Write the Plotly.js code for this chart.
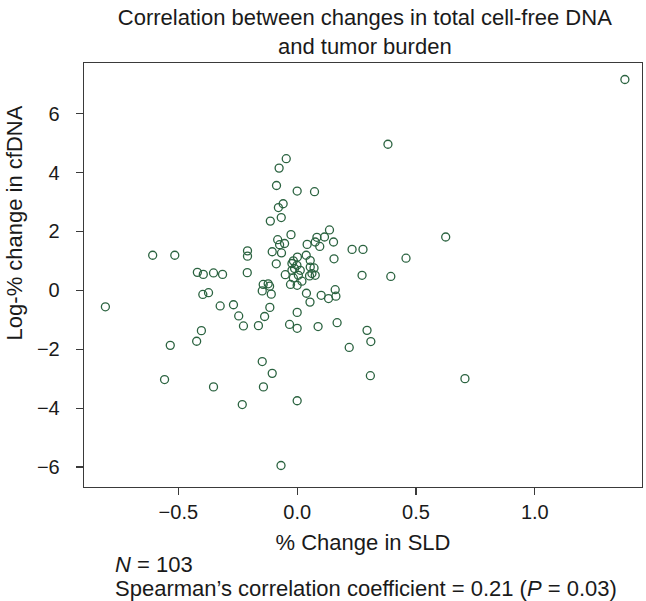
<!DOCTYPE html>
<html>
<head>
<meta charset="utf-8">
<script src="https://cdn.plot.ly/plotly-3.0.1.min.js"></script>
<style>
  html, body { margin: 0; padding: 0; background: #fff; }
  #chart { width: 646px; height: 601px; }
</style>
</head>
<body>
<div id="chart"></div>
<script>
// % change in SLD (x) and log-% change in cfDNA (y)
const sldChange = [
  -0.807, -0.608, -0.515, -0.420, -0.395, -0.352, -0.314, -0.210, -0.209, -0.209,
  -0.397, -0.373, -0.324, -0.268, -0.246, -0.226, -0.163, -0.403, -0.423, -0.534,
  -0.558, -0.352, -0.231, -0.147, -0.105, -0.142, 0.000, -0.068, -0.137, -0.115,
  -0.109, -0.147, -0.143, -0.122, -0.116, -0.028, 0.000, 0.020, 0.039, 0.054,
  0.101, 0.132, 0.160, 0.163, 0.000, -0.032, 0.000, 0.088, 0.168, 0.219,
  0.294, 0.310, 0.308, 0.706, -0.046, -0.076, -0.087, 0.000, 0.073, -0.059,
  -0.079, -0.067, -0.113, -0.026, 0.136, 0.115, 0.083, 0.076, 0.095, 0.153,
  0.042, -0.082, -0.053, -0.074, -0.105, -0.066, 0.231, 0.277, 0.155, -0.088,
  0.001, 0.038, -0.016, 0.055, 0.273, 0.394, 0.458, 0.625, 0.382, 1.379,
  -0.022, -0.001, -0.011, -0.022, 0.013, -0.050, 0.005, -0.016, 0.055, 0.071,
  0.062, 0.052, 0.076
];
const cfdnaChange = [
  -0.56, 1.19, 1.19, 0.61, 0.54, 0.59, 0.54, 0.60, 1.34, 1.16,
  -0.14, -0.08, -0.53, -0.49, -0.87, -1.21, -1.20, -1.37, -1.73, -1.87,
  -3.03, -3.28, -3.88, -2.42, -2.82, -3.28, -3.75, -5.95, -0.89, -0.58,
  -0.13, -0.02, 0.20, 0.22, 0.14, 0.20, 0.17, 0.31, -0.10, -0.40,
  -0.17, -0.28, 0.02, -0.20, -0.75, -1.16, -1.29, -1.23, -1.10, -1.94,
  -1.36, -1.74, -2.90, -3.00, 4.47, 4.15, 3.56, 3.37, 3.35, 2.94,
  2.81, 2.47, 2.35, 1.89, 2.05, 1.81, 1.80, 1.64, 1.49, 1.64,
  1.56, 1.72, 1.59, 1.55, 1.31, 1.27, 1.39, 1.39, 1.07, 0.90,
  1.13, 1.19, 1.00, 1.01, 0.51, 0.47, 1.09, 1.81, 4.96, 7.16,
  0.91, 0.85, 0.74, 0.68, 0.68, 0.53, 0.51, 0.42, 0.79, 0.76,
  0.57, 0.49, 0.51
];
const xTickVals = [-0.5, 0.0, 0.5, 1.0];
const xTickText = ['\u22120.5', '0.0', '0.5', '1.0'];
const yTickVals = [-6, -4, -2, 0, 2, 4, 6];
const yTickText = ['\u22126', '\u22124', '\u22122', '0', '2', '4', '6'];

const FONT = 'Liberation Sans, Arial, Helvetica, sans-serif';
const TXT = '#1a1a1a';

const trace = {
  type: 'scatter',
  mode: 'markers',
  x: sldChange,
  y: cfdnaChange,
  marker: {
    symbol: 'circle-open',
    size: 8,
    color: '#2b6340',
    line: { width: 1.3, color: '#2b6340' }
  },
  hoverinfo: 'x+y',
  showlegend: false
};

const axisCommon = {
  showline: true,
  mirror: true,
  linecolor: '#3a3a3a',
  linewidth: 1.3,
  showgrid: false,
  zeroline: false,
  ticks: 'outside',
  ticklen: 7,
  tickwidth: 1.1,
  tickcolor: '#3a3a3a',
  tickfont: { family: FONT, size: 20, color: TXT },
  tickmode: 'array'
};

const layout = {
  width: 646,
  height: 601,
  paper_bgcolor: '#ffffff',
  plot_bgcolor: '#ffffff',
  margin: { l: 83.6, r: 3.7, t: 62.7, b: 114.2, pad: 0 },
  font: { family: FONT, color: TXT },
  title: {
    text: 'Correlation between changes in total cell-free DNA<br>and tumor burden',
    font: { family: FONT, size: 22, color: TXT },
    x: 0.5647,
    xanchor: 'center',
    xref: 'container',
    y: 0.958,
    yanchor: 'top',
    yref: 'container'
  },
  xaxis: Object.assign({}, axisCommon, {
    range: [-0.897, 1.451],
    tickvals: xTickVals,
    ticktext: xTickText,
    ticklabelstandoff: 0,
    title: {
      text: '% Change in SLD',
      font: { family: FONT, size: 22, color: TXT },
      standoff: 12
    }
  }),
  yaxis: Object.assign({}, axisCommon, {
    range: [-6.68, 7.72],
    tickvals: yTickVals,
    ticktext: yTickText,
    ticklabelstandoff: 12
  }),
  annotations: [
    {
      text: 'Log-% change in cfDNA',
      textangle: -90,
      xref: 'paper', yref: 'paper',
      x: -0.1255, y: 0.624,
      xanchor: 'center', yanchor: 'middle',
      showarrow: false,
      font: { family: FONT, size: 22, color: TXT }
    },
    {
      text: '<i>N</i> = 103',
      xref: 'paper', yref: 'paper',
      x: 0.0521, y: -0.182,
      xanchor: 'left', yanchor: 'middle',
      showarrow: false,
      font: { family: FONT, size: 22, color: TXT }
    },
    {
      text: 'Spearman\u2019s correlation coefficient = 0.21 (<i>P</i> = 0.03)',
      xref: 'paper', yref: 'paper',
      x: 0.0521, y: -0.240,
      xanchor: 'left', yanchor: 'middle',
      showarrow: false,
      font: { family: FONT, size: 22, color: TXT }
    }
  ]
};

Plotly.newPlot('chart', [trace], layout, { displayModeBar: false, staticPlot: true });
</script>
</body>
</html>
